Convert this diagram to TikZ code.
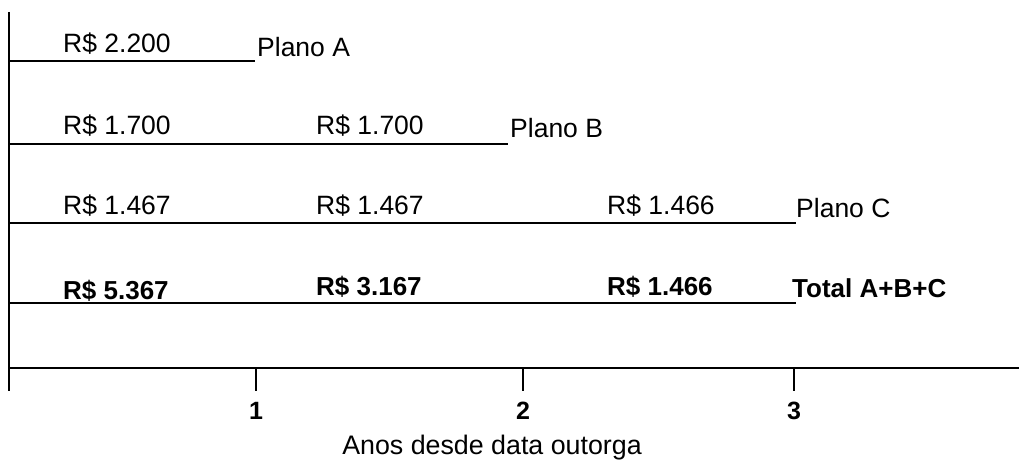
\documentclass[tikz,border=0pt]{standalone}
\usepackage{fontspec}
\setmainfont{Liberation Sans}
\begin{document}
\begin{tikzpicture}[x=1pt,y=-1pt,
  rule/.style={line width=2.8pt,black},
  val/.style={anchor=base west,inner sep=0pt,font=\fontsize{26.5}{30}\selectfont},
  bval/.style={val,font=\fontsize{26}{30}\selectfont\bfseries},
  ticklab/.style={anchor=base,inner sep=0pt,font=\fontsize{25}{28}\selectfont\bfseries}]
\useasboundingbox (0,0) rectangle (1019,462);
% axes
\coordinate (vtop) at (9,12);
\coordinate (vbot) at (9,391);
\coordinate (hl) at (9,368);
\coordinate (hr) at (1019,368);
\draw[rule] (vtop) -- (vbot);
\draw[rule] (hl) -- (hr);
% ticks
\foreach \n/\x in {1/256,2/523,3/794}{
  \coordinate (t\n a) at (\x,368);
  \coordinate (t\n b) at (\x,391);
  \draw[rule] (t\n a) -- (t\n b);
  \node[ticklab] (tl\n) at (\x,419) {\n};
}
\node[anchor=base,inner sep=0pt,font=\fontsize{26.8}{30}\selectfont] (title) at (492,454) {Anos desde data outorga};
% Plano A
\coordinate (a0) at (9,61); \coordinate (a1) at (255,61);
\draw[rule] (a0) -- (a1);
\node[val] (a1v) at (63,53) {R\$ 2.200};
\node[val] (aL) at (257,57) {Plano A};
% Plano B
\coordinate (b0) at (9,144); \coordinate (b1) at (508,144);
\draw[rule] (b0) -- (b1);
\node[val] (b1v) at (63,135) {R\$ 1.700};
\node[val] (b2v) at (316,135) {R\$ 1.700};
\node[val] (bL) at (510,138) {Plano B};
% Plano C
\coordinate (c0) at (9,223); \coordinate (c1) at (796,223);
\draw[rule] (c0) -- (c1);
\node[val] (c1v) at (63,215) {R\$ 1.467};
\node[val] (c2v) at (316,215) {R\$ 1.467};
\node[val] (c3v) at (607,215) {R\$ 1.466};
\node[val] (cL) at (796,218) {Plano C};
% Total
\coordinate (d0) at (9,303); \coordinate (d1) at (796,303);
\draw[rule] (d0) -- (d1);
\node[bval] (d1v) at (63,299) {R\$ 5.367};
\node[bval] (d2v) at (316,295) {R\$ 3.167};
\node[bval] (d3v) at (607,295) {R\$ 1.466};
\node[bval] (dL) at (792,297) {Total A+B+C};
\end{tikzpicture}
\end{document}
